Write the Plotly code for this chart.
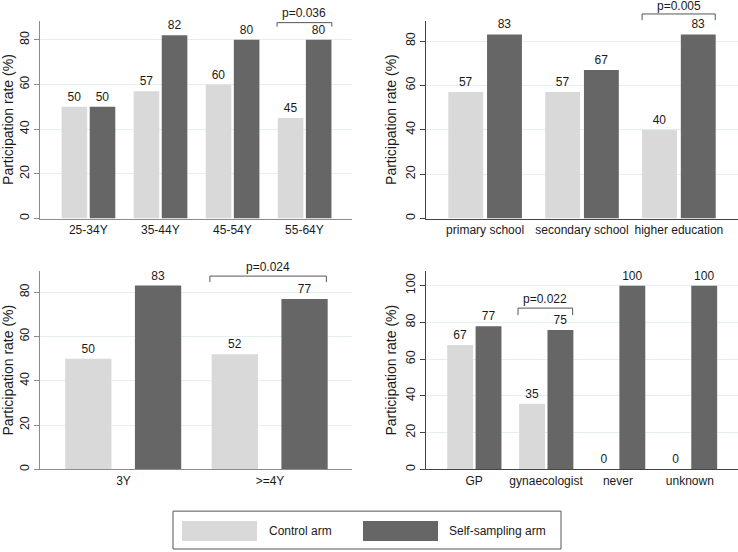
import plotly.graph_objects as go

W, H = 738, 552

series_names = ["Control arm", "Self-sampling arm"]
color_control = "#d9d9d9"
color_self = "#666666"

# Panel 1: age group
age_cats = ["25-34Y", "35-44Y", "45-54Y", "55-64Y"]
age_control = [50, 57, 60, 45]
age_self = [50, 82, 80, 80]
age_p = {"cat": 3, "text": "p=0.036"}

# Panel 2: education
edu_cats = ["primary school", "secondary school", "higher education"]
edu_control = [57, 57, 40]
edu_self = [83, 67, 83]
edu_p = {"cat": 2, "text": "p=0.005"}

# Panel 3: screening interval
int_cats = ["3Y", ">=4Y"]
int_control = [50, 52]
int_self = [83, 77]
int_p = {"cat": 1, "text": "p=0.024"}

# Panel 4: usual sample taker
tak_cats = ["GP", "gynaecologist", "never", "unknown"]
tak_control = [67.7, 35.7, 0, 0]
tak_self = [77.9, 75.9, 100, 100]
tak_control_labels = ["67", "35", "0", "0"]
tak_self_labels = ["77", "75", "100", "100"]
tak_p = {"cat": 1, "text": "p=0.022"}

FONT = "Liberation Sans, Arial, sans-serif"
TXT = "#1a1a1a"

def px2x(px):
    return px / W

def px2y(py):
    return 1 - py / H

panels = [
    dict(cats=age_cats, c=age_control, s=age_self, cl=None, sl=None, p=age_p,
         xr=[-0.67, 3.66], yr=[0, 88.6], w=0.355, oc=-0.37, os=0.02,
         dx=[px2x(40), px2x(352)], dy=[px2y(219.3), px2y(20.7)], lc="#8c8c8c",
         ticks=[0, 20, 40, 60, 80], br=(-0.38, 0.38, 85.9, 87.7, 91.9)),
    dict(cats=edu_cats, c=edu_control, s=edu_self, cl=None, sl=None, p=edu_p,
         xr=[-0.61, 2.61], yr=[0, 89.2], w=0.36, oc=-0.38, os=0.02,
         dx=[px2x(426), px2x(738)], dy=[px2y(219.3), px2y(20.7)], lc="#444444",
         ticks=[0, 20, 40, 60, 80], br=(-0.38, 0.375, 89.4, 92.2, 95.6)),
    dict(cats=int_cats, c=int_control, s=int_self, cl=None, sl=None, p=int_p,
         xr=[-0.57, 1.56], yr=[0, 89.6], w=0.316, oc=-0.398, os=0.078,
         dx=[px2x(40), px2x(352)], dy=[px2y(471), px2y(272)], lc="#8c8c8c",
         ticks=[0, 20, 40, 60, 80], br=(-0.41, 0.385, 84.6, 87.3, 91.4)),
    dict(cats=tak_cats, c=tak_control, s=tak_self, cl=tak_control_labels, sl=tak_self_labels, p=tak_p,
         xr=[-0.67, 3.67], yr=[0, 108.0], w=0.36, oc=-0.375, os=0.02,
         dx=[px2x(426), px2x(738)], dy=[px2y(471), px2y(272)], lc="#444444",
         ticks=[0, 20, 40, 60, 80, 100], br=(-0.39, 0.37, 84.0, 87.8, 92.7)),
]

fig = go.Figure()
shapes = []
annotations = []

for i, P in enumerate(panels):
    n = i + 1
    xa = "x" if n == 1 else f"x{n}"
    ya = "y" if n == 1 else f"y{n}"
    xs = list(range(len(P["cats"])))
    clab = P["cl"] if P["cl"] else [str(int(v)) for v in P["c"]]
    slab = P["sl"] if P["sl"] else [str(int(v)) for v in P["s"]]
    for vals, labs, col, off, name in [
        (P["c"], clab, color_control, P["oc"], series_names[0]),
        (P["s"], slab, color_self, P["os"], series_names[1]),
    ]:
        fig.add_trace(go.Bar(
            x=xs, y=vals, width=P["w"], offset=off, name=name,
            marker=dict(color=col, line=dict(width=0)),
            text=labs, textposition="outside", cliponaxis=False,
            constraintext="none",
            textfont=dict(size=12, color=TXT, family=FONT),
            xaxis=xa, yaxis=ya, showlegend=False, hoverinfo="skip",
        ))
    axkey = "xaxis" if n == 1 else f"xaxis{n}"
    aykey = "yaxis" if n == 1 else f"yaxis{n}"
    fig.layout[axkey] = dict(
        domain=P["dx"], anchor=ya, range=P["xr"], tickvals=xs, ticktext=P["cats"],
        showline=True, linecolor=P["lc"], linewidth=1, showgrid=False, zeroline=False,
        ticks="", tickfont=dict(size=12, color=TXT, family=FONT), fixedrange=True,
    )
    fig.layout[aykey] = dict(
        domain=P["dy"], anchor=xa, range=P["yr"], tickvals=P["ticks"],
        showline=True, linecolor=P["lc"], linewidth=1,
        showgrid=True, gridcolor="#e6eff0", gridwidth=1, zeroline=False,
        ticks="outside", ticklen=5, tickcolor=P["lc"], tickangle=-90,
        tickfont=dict(size=12.5, color=TXT, family=FONT),
        title=dict(text="Participation rate (%)", font=dict(size=14, color=TXT, family=FONT), standoff=4),
        fixedrange=True,
    )
    # significance bracket
    x0r, x1r, ylo, yhi, ytxt = P["br"]
    c = P["p"]["cat"]
    rx0, rx1 = P["xr"]
    ry1 = P["yr"][1]
    fx = lambda v, rx0=rx0, rx1=rx1: (v - rx0) / (rx1 - rx0)
    fy = lambda v, ry1=ry1: v / ry1
    path = (f"M {fx(c + x0r)} {fy(ylo)} L {fx(c + x0r)} {fy(yhi)} "
            f"L {fx(c + x1r)} {fy(yhi)} L {fx(c + x1r)} {fy(ylo)}")
    shapes.append(dict(type="path", path=path, xref=f"{xa} domain", yref=f"{ya} domain",
                       line=dict(color="#555555", width=1)))
    annotations.append(dict(x=fx(c + (x0r + x1r) / 2), y=fy(ytxt),
                            xref=f"{xa} domain", yref=f"{ya} domain",
                            xanchor="center", yanchor="middle",
                            text=P["p"]["text"], showarrow=False,
                            font=dict(size=12, color=TXT, family=FONT)))

# legend box
shapes.append(dict(type="rect", xref="paper", yref="paper",
                   x0=px2x(173), x1=px2x(561), y0=px2y(551), y1=px2y(513),
                   line=dict(color="#555555", width=1), fillcolor="white"))
legend_items = [
    (series_names[0], color_control, 182, 257, 267),
    (series_names[1], color_self, 363, 438, 447),
]
for name, col, sx0, sx1, tx in legend_items:
    shapes.append(dict(type="rect", xref="paper", yref="paper",
                       x0=px2x(sx0), x1=px2x(sx1), y0=px2y(543), y1=px2y(523),
                       line=dict(width=0), fillcolor=col))
    annotations.append(dict(x=px2x(tx), y=px2y(533), xref="paper", yref="paper",
                            xanchor="left", yanchor="middle", text=name, showarrow=False,
                            font=dict(size=12, color=TXT, family=FONT)))

fig.update_layout(
    width=W, height=H, margin=dict(l=0, r=0, t=0, b=0),
    paper_bgcolor="white", plot_bgcolor="white",
    barmode="overlay", shapes=shapes, annotations=annotations,
    font=dict(family=FONT, color=TXT),
)

fig.write_html("out.html")
